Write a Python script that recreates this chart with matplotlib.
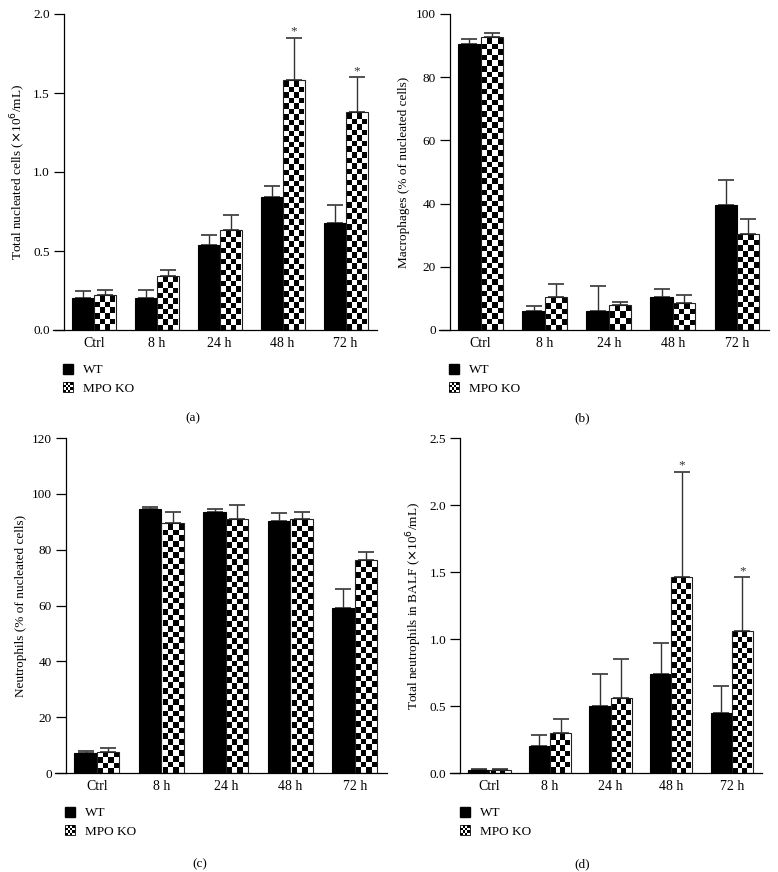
import numpy as np
import matplotlib
matplotlib.use("Agg")
import matplotlib.pyplot as plt
from matplotlib.patches import Patch, Rectangle
from matplotlib.legend_handler import HandlerBase

plt.rcParams["font.family"] = ["Liberation Serif", "DejaVu Serif"]
plt.rcParams["font.size"] = 9

groups = ["Ctrl", "8 h", "24 h", "48 h", "72 h"]

# (a) total nucleated cells (x10^6/mL)
a_wt = [0.20, 0.20, 0.54, 0.84, 0.68]
a_wt_err = [0.045, 0.05, 0.06, 0.07, 0.11]
a_ko = [0.22, 0.34, 0.63, 1.58, 1.38]
a_ko_err = [0.03, 0.04, 0.10, 0.27, 0.22]
a_star = [False, False, False, True, True]

# (b) macrophages (% of nucleated cells)
b_wt = [90.6, 6.0, 6.0, 10.5, 39.7]
b_wt_err = [1.5, 1.5, 8.0, 2.5, 7.8]
b_ko = [92.6, 10.5, 8.0, 8.5, 30.5]
b_ko_err = [1.4, 4.0, 1.0, 2.5, 4.7]
b_star = [False] * 5

# (c) neutrophils (% of nucleated cells)
c_wt = [7.0, 94.5, 93.5, 90.2, 59.0]
c_wt_err = [1.0, 0.7, 1.0, 2.8, 6.8]
c_ko = [7.6, 89.5, 91.0, 91.0, 76.2]
c_ko_err = [1.4, 4.0, 5.0, 2.5, 3.1]
c_star = [False] * 5

# (d) total neutrophils in BALF (x10^6/mL)
d_wt = [0.02, 0.20, 0.50, 0.74, 0.45]
d_wt_err = [0.01, 0.08, 0.24, 0.23, 0.20]
d_ko = [0.02, 0.30, 0.56, 1.46, 1.06]
d_ko_err = [0.01, 0.10, 0.29, 0.79, 0.40]
d_star = [False, False, False, True, True]

W, H = 778, 872
fig = plt.figure(figsize=(W / 100, H / 100), dpi=100)


class CheckerHandler(HandlerBase):
    def create_artists(self, legend, orig_handle, xdescent, ydescent,
                       width, height, fontsize, trans):
        s = height
        n = 4
        c = s / n
        x0 = -xdescent + (width - s) / 2
        y0 = -ydescent
        arts = [Rectangle((x0, y0), s, s, facecolor="white", edgecolor="black",
                          lw=0.6, transform=trans)]
        for i in range(n):
            for j in range(n):
                if (i + j) % 2 == 0:
                    arts.append(Rectangle((x0 + i * c, y0 + j * c), c, c,
                                          facecolor="black", lw=0, transform=trans))
        return arts


def panel(box, wt, wt_err, ko, ko_err, stars, ylim, yticks, yfmt, ylabel, tag, tag_xy):
    left, right, top, bottom = box
    ax = fig.add_axes([left / W, 1 - bottom / H, (right - left) / W, (bottom - top) / H])
    xlim = (-0.65, 4.5)
    bw = 0.35
    x = np.arange(len(groups))

    ax.bar(x - bw / 2, wt, bw, color="black", edgecolor="black", lw=0.8, zorder=2)
    ko_bars = ax.bar(x + bw / 2, ko, bw, facecolor="none", edgecolor="#222222",
                     lw=0.8, zorder=3)

    # checkerboard fill for the KO bars
    px_x = (right - left) / (xlim[1] - xlim[0])
    px_y = (bottom - top) / (ylim[1] - ylim[0])
    cell = bw * px_x / 4
    for rect, h in zip(ko_bars, ko):
        x0 = rect.get_x()
        inset = 1.2 / px_x
        hp = h * px_y
        nrows = max(1, int(round((hp - 1.2) / cell)))
        yy, xx = np.mgrid[0:nrows, 0:4]
        board = ((xx + yy) % 2).astype(float)
        top_y = h - 1.2 / px_y if hp > 3 else h
        ax.imshow(board, cmap="gray", vmin=0, vmax=1, interpolation="nearest",
                  extent=(x0 + inset, x0 + bw - inset, 0, top_y), origin="lower",
                  aspect="auto", zorder=2.5)

    ax.errorbar(x - bw / 2, wt, yerr=[np.zeros(len(wt)), wt_err], fmt="none",
                ecolor="#333333", elinewidth=1, capsize=5.5, capthick=1.2, zorder=1)
    ax.errorbar(x + bw / 2, ko, yerr=[np.zeros(len(ko)), ko_err], fmt="none",
                ecolor="#333333", elinewidth=1, capsize=5.5, capthick=1.2, zorder=1)
    for xi, v, e, s in zip(x, ko, ko_err, stars):
        if s:
            ax.text(xi + bw / 2, v + e, "*", ha="center", va="bottom",
                    fontsize=9.5, color="#333333")

    ax.set_xlim(*xlim)
    ax.set_ylim(*ylim)
    ax.set_yticks(yticks)
    ax.set_yticklabels([yfmt.format(t) for t in yticks])
    ax.set_xticks(x)
    ax.set_xticklabels(groups, fontsize=10)
    ax.tick_params(axis="x", length=0, pad=5)
    ax.tick_params(axis="y", length=7, width=0.9, pad=3, labelsize=9.5)
    ax.spines["top"].set_visible(False)
    ax.spines["right"].set_visible(False)
    ax.spines["left"].set_position(("data", -0.48))
    ax.spines["left"].set_linewidth(0.9)
    ax.spines["bottom"].set_linewidth(0.9)
    ax.set_ylabel(ylabel, fontsize=9.5, labelpad=4)

    handles = [Patch(facecolor="black", edgecolor="black"), Patch(facecolor="white")]
    ax.legend(handles, ["WT", "MPO KO"], handler_map={handles[1]: CheckerHandler()},
              loc="upper left", bbox_to_anchor=(10 / (right - left), -34 / (bottom - top)),
              frameon=False, fontsize=9.5, handlelength=0.75, handleheight=0.75,
              handletextpad=0.8, labelspacing=0.45, borderpad=0, borderaxespad=0)
    fig.text(tag_xy[0] / W, 1 - tag_xy[1] / H, tag, ha="center", va="center", fontsize=9.5)
    return ax


panel((53, 377, 14, 330), a_wt, a_wt_err, a_ko, a_ko_err, a_star,
      (0, 2.0), [0, 0.5, 1.0, 1.5, 2.0], "{:.1f}",
      r"Total nucleated cells ($\times$10$^6$/mL)", "(a)", (193, 418))
panel((439, 769, 14, 330), b_wt, b_wt_err, b_ko, b_ko_err, b_star,
      (0, 100), [0, 20, 40, 60, 80, 100], "{:.0f}",
      "Macrophages (% of nucleated cells)", "(b)", (582, 418))
panel((55, 387, 438, 773), c_wt, c_wt_err, c_ko, c_ko_err, c_star,
      (0, 120), [0, 20, 40, 60, 80, 100, 120], "{:.0f}",
      "Neutrophils (% of nucleated cells)", "(c)", (200, 864))
panel((450, 762, 438, 773), d_wt, d_wt_err, d_ko, d_ko_err, d_star,
      (0, 2.5), [0, 0.5, 1.0, 1.5, 2.0, 2.5], "{:.1f}",
      r"Total neutrophils in BALF ($\times$10$^6$/mL)", "(d)", (582, 864))

fig.savefig("out.png", dpi=100)
